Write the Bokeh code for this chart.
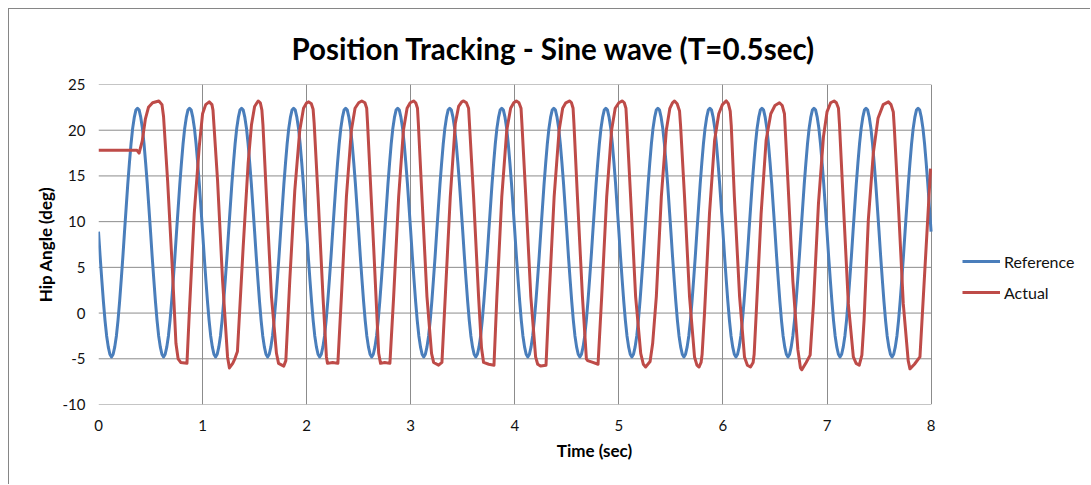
from bokeh.plotting import figure
from bokeh.models import Range1d, FixedTicker, Legend, LegendItem, PrintfTickFormatter
from bokeh.embed import file_html
from bokeh.resources import INLINE

# ---------------- data ----------------
# Reference signal, sampled every 1/64 s (0 .. 8 s); one row = one 0.5 s cycle
ref_angle = [
    8.9, 6.2, 3.7, 1.3, -0.8, -2.5, -3.7, -4.5, -4.8, -4.5, -3.7, -2.5, -0.8, 1.3, 3.7, 6.2, 8.9, 11.5, 14.1, 16.4, 18.5, 20.2, 21.4, 22.2, 22.4, 22.2, 21.4, 20.2, 18.5, 16.4, 14.1, 11.5,
    8.9, 6.2, 3.7, 1.3, -0.8, -2.5, -3.7, -4.5, -4.8, -4.5, -3.7, -2.5, -0.8, 1.3, 3.7, 6.2, 8.9, 11.5, 14.1, 16.4, 18.5, 20.2, 21.4, 22.2, 22.4, 22.2, 21.4, 20.2, 18.5, 16.4, 14.1, 11.5,
    8.9, 6.2, 3.7, 1.3, -0.8, -2.5, -3.7, -4.5, -4.8, -4.5, -3.7, -2.5, -0.8, 1.3, 3.7, 6.2, 8.9, 11.5, 14.1, 16.4, 18.5, 20.2, 21.4, 22.2, 22.4, 22.2, 21.4, 20.2, 18.5, 16.4, 14.1, 11.5,
    8.9, 6.2, 3.7, 1.3, -0.8, -2.5, -3.7, -4.5, -4.8, -4.5, -3.7, -2.5, -0.8, 1.3, 3.7, 6.2, 8.9, 11.5, 14.1, 16.4, 18.5, 20.2, 21.4, 22.2, 22.4, 22.2, 21.4, 20.2, 18.5, 16.4, 14.1, 11.5,
    8.9, 6.2, 3.7, 1.3, -0.8, -2.5, -3.7, -4.5, -4.8, -4.5, -3.7, -2.5, -0.8, 1.3, 3.7, 6.2, 8.9, 11.5, 14.1, 16.4, 18.5, 20.2, 21.4, 22.2, 22.4, 22.2, 21.4, 20.2, 18.5, 16.4, 14.1, 11.5,
    8.9, 6.2, 3.7, 1.3, -0.8, -2.5, -3.7, -4.5, -4.8, -4.5, -3.7, -2.5, -0.8, 1.3, 3.7, 6.2, 8.9, 11.5, 14.1, 16.4, 18.5, 20.2, 21.4, 22.2, 22.4, 22.2, 21.4, 20.2, 18.5, 16.4, 14.1, 11.5,
    8.9, 6.2, 3.7, 1.3, -0.8, -2.5, -3.7, -4.5, -4.8, -4.5, -3.7, -2.5, -0.8, 1.3, 3.7, 6.2, 8.9, 11.5, 14.1, 16.4, 18.5, 20.2, 21.4, 22.2, 22.4, 22.2, 21.4, 20.2, 18.5, 16.4, 14.1, 11.5,
    8.9, 6.2, 3.7, 1.3, -0.8, -2.5, -3.7, -4.5, -4.8, -4.5, -3.7, -2.5, -0.8, 1.3, 3.7, 6.2, 8.9, 11.5, 14.1, 16.4, 18.5, 20.2, 21.4, 22.2, 22.4, 22.2, 21.4, 20.2, 18.5, 16.4, 14.1, 11.5,
    8.9, 6.2, 3.7, 1.3, -0.8, -2.5, -3.7, -4.5, -4.8, -4.5, -3.7, -2.5, -0.8, 1.3, 3.7, 6.2, 8.9, 11.5, 14.1, 16.4, 18.5, 20.2, 21.4, 22.2, 22.4, 22.2, 21.4, 20.2, 18.5, 16.4, 14.1, 11.5,
    8.9, 6.2, 3.7, 1.3, -0.8, -2.5, -3.7, -4.5, -4.8, -4.5, -3.7, -2.5, -0.8, 1.3, 3.7, 6.2, 8.9, 11.5, 14.1, 16.4, 18.5, 20.2, 21.4, 22.2, 22.4, 22.2, 21.4, 20.2, 18.5, 16.4, 14.1, 11.5,
    8.9, 6.2, 3.7, 1.3, -0.8, -2.5, -3.7, -4.5, -4.8, -4.5, -3.7, -2.5, -0.8, 1.3, 3.7, 6.2, 8.9, 11.5, 14.1, 16.4, 18.5, 20.2, 21.4, 22.2, 22.4, 22.2, 21.4, 20.2, 18.5, 16.4, 14.1, 11.5,
    8.9, 6.2, 3.7, 1.3, -0.8, -2.5, -3.7, -4.5, -4.8, -4.5, -3.7, -2.5, -0.8, 1.3, 3.7, 6.2, 8.9, 11.5, 14.1, 16.4, 18.5, 20.2, 21.4, 22.2, 22.4, 22.2, 21.4, 20.2, 18.5, 16.4, 14.1, 11.5,
    8.9, 6.2, 3.7, 1.3, -0.8, -2.5, -3.7, -4.5, -4.8, -4.5, -3.7, -2.5, -0.8, 1.3, 3.7, 6.2, 8.9, 11.5, 14.1, 16.4, 18.5, 20.2, 21.4, 22.2, 22.4, 22.2, 21.4, 20.2, 18.5, 16.4, 14.1, 11.5,
    8.9, 6.2, 3.7, 1.3, -0.8, -2.5, -3.7, -4.5, -4.8, -4.5, -3.7, -2.5, -0.8, 1.3, 3.7, 6.2, 8.9, 11.5, 14.1, 16.4, 18.5, 20.2, 21.4, 22.2, 22.4, 22.2, 21.4, 20.2, 18.5, 16.4, 14.1, 11.5,
    8.9, 6.2, 3.7, 1.3, -0.8, -2.5, -3.7, -4.5, -4.8, -4.5, -3.7, -2.5, -0.8, 1.3, 3.7, 6.2, 8.9, 11.5, 14.1, 16.4, 18.5, 20.2, 21.4, 22.2, 22.4, 22.2, 21.4, 20.2, 18.5, 16.4, 14.1, 11.5,
    8.9, 6.2, 3.7, 1.3, -0.8, -2.5, -3.7, -4.5, -4.8, -4.5, -3.7, -2.5, -0.8, 1.3, 3.7, 6.2, 8.9, 11.5, 14.1, 16.4, 18.5, 20.2, 21.4, 22.2, 22.4, 22.2, 21.4, 20.2, 18.5, 16.4, 14.1, 11.5,
    8.9,
]
ref_time = [i / 64 for i in range(len(ref_angle))]   # sample clock 64 Hz

# Actual signal, read at key points
act_time = [
    0.00, 0.10, 0.20, 0.30, 0.37, 0.39, 0.42, 0.45, 0.48, 0.52, 0.58, 0.61, 0.625, 0.664, 0.712, 0.744,
    0.765, 0.79, 0.85, 0.872, 0.92, 0.968, 1.00, 1.03, 1.064, 1.09, 1.10, 1.144, 1.192, 1.24, 1.258,
    1.29, 1.31, 1.335, 1.39, 1.438, 1.47, 1.50, 1.534, 1.555, 1.57, 1.58, 1.614, 1.662, 1.71, 1.73,
    1.78, 1.80, 1.838, 1.886, 1.934, 1.97, 2.00, 2.02, 2.045, 2.062, 2.072, 2.11, 2.157, 2.19, 2.20,
    2.25, 2.30, 2.334, 2.382, 2.43, 2.465, 2.50, 2.53, 2.56, 2.577, 2.585, 2.62, 2.644, 2.692, 2.71,
    2.75, 2.80, 2.836, 2.884, 2.93, 2.965, 2.995, 3.028, 3.048, 3.065, 3.073, 3.108, 3.156, 3.20, 3.22,
    3.268, 3.30, 3.332, 3.38, 3.428, 3.46, 3.49, 3.508, 3.535, 3.556, 3.564, 3.604, 3.652, 3.68, 3.70,
    3.75, 3.80, 3.828, 3.875, 3.923, 3.96, 3.99, 4.015, 4.04, 4.06, 4.068, 4.106, 4.154, 4.20, 4.22,
    4.25, 4.30, 4.33, 4.378, 4.426, 4.46, 4.49, 4.528, 4.545, 4.56, 4.568, 4.602, 4.65, 4.688, 4.70,
    4.75, 4.80, 4.835, 4.883, 4.93, 4.965, 5.00, 5.034, 5.052, 5.068, 5.076, 5.113, 5.161, 5.21, 5.235,
    5.257, 5.30, 5.325, 5.36, 5.408, 5.456, 5.49, 5.515, 5.535, 5.56, 5.583, 5.593, 5.631, 5.679, 5.727,
    5.75, 5.77, 5.79, 5.80, 5.823, 5.871, 5.92, 5.96, 5.995, 6.032, 6.052, 6.07, 6.08, 6.11, 6.16,
    6.207, 6.235, 6.265, 6.29, 6.30, 6.32, 6.367, 6.415, 6.46, 6.50, 6.543, 6.57, 6.591, 6.624, 6.672,
    6.72, 6.745, 6.758, 6.80, 6.838, 6.87, 6.918, 6.966, 7.00, 7.035, 7.068, 7.09, 7.11, 7.12, 7.157,
    7.205, 7.253, 7.28, 7.31, 7.335, 7.356, 7.397, 7.445, 7.49, 7.54, 7.59, 7.615, 7.637, 7.647, 7.685,
    7.733, 7.78, 7.797, 7.84, 7.893, 7.94, 7.995,
]
act_angle = [
    17.8, 17.8, 17.8, 17.8, 17.8, 17.5, 18.8, 21.2, 22.5, 23.0, 23.2, 22.8, 21.5, 14.5, 4.3, -3.3,
    -5.0, -5.4, -5.5, -0.1, 10.9, 18.2, 21.8, 22.8, 23.1, 22.8, 22.2, 14.5, 3.6, -4.8, -6.0,
    -5.5, -5.0, -4.2, 7.2, 16.4, 20.6, 22.6, 23.2, 23.0, 22.2, 20.6, 12.7, 1.8, -4.4, -5.5,
    -5.8, -5.2, 3.6, 13.4, 20.0, 22.4, 23.0, 23.1, 22.9, 22.3, 20.8, 12.7, 1.8, -4.8, -5.5,
    -5.4, -5.5, 1.8, 12.7, 20.0, 22.4, 23.0, 23.2, 23.0, 22.4, 20.8, 12.7, 7.2, -4.4, -5.5,
    -5.4, -5.5, 1.8, 12.7, 20.0, 22.4, 23.0, 23.2, 23.0, 22.4, 20.8, 12.7, 1.8, -4.4, -5.4,
    -5.7, -5.4, 1.8, 12.7, 20.7, 22.6, 23.1, 23.2, 23.0, 22.4, 20.8, 12.7, 1.8, -3.8, -5.4,
    -5.6, -5.7, 1.8, 12.7, 20.0, 22.4, 23.0, 23.2, 23.0, 22.4, 20.8, 12.7, 1.8, -4.8, -5.6,
    -5.8, -5.7, 1.8, 12.7, 20.0, 22.4, 23.0, 23.2, 23.0, 22.4, 20.8, 12.7, 1.8, -5.0, -5.2,
    -5.4, -5.6, 1.8, 12.7, 20.0, 22.4, 23.0, 23.2, 23.0, 22.4, 20.8, 12.7, 1.8, -4.4, -5.6,
    -5.9, -5.3, -3.3, 1.8, 12.7, 20.0, 22.4, 23.0, 23.2, 22.9, 22.1, 20.5, 12.7, 1.8, -4.8,
    -5.7, -5.9, -5.4, -4.5, 0.0, 10.9, 18.9, 21.8, 22.8, 23.2, 22.9, 22.1, 20.5, 12.7, 1.8,
    -4.8, -5.7, -5.9, -5.4, -4.5, 0.0, 10.9, 18.9, 21.8, 22.7, 23.0, 22.7, 21.8, 14.5, 3.5,
    -4.0, -6.0, -6.2, -5.4, -4.6, 1.0, 12.0, 19.3, 22.0, 23.0, 23.2, 23.0, 22.4, 20.6, 12.0,
    1.0, -4.8, -5.5, -5.7, -4.6, -0.8, 10.2, 17.5, 21.3, 22.8, 23.1, 22.8, 22.0, 20.2, 12.0,
    1.0, -5.2, -6.1, -5.6, -4.8, 4.7, 15.8,
]

series_names = ["Reference", "Actual"]
x_ticks = [0, 1, 2, 3, 4, 5, 6, 7, 8]
y_ticks = [-10, -5, 0, 5, 10, 15, 20, 25]

# ---------------- styling ----------------
BLUE = "#4A7EBB"
RED = "#BE4B48"
GRID = "#8C8C8C"
FONT = "Lato"

# frame runs from x=0 (canvas 88.5) to the right edge so the legend can sit at the right;
# data axis 0..8 occupies 833 px
PX_PER_UNIT = 833 / 8
X_END = x_ticks[-1] + (1081 - 921.5) / PX_PER_UNIT

p = figure(width=1082, height=476, output_backend="svg", toolbar_location=None,
           x_range=Range1d(x_ticks[0], X_END), y_range=Range1d(y_ticks[0], y_ticks[-1]),
           min_border_left=89, min_border_right=1, min_border_top=75, min_border_bottom=81)
p.margin = (8, 0, 0, 8)
p.styles = {"border-left": "1px solid #868686", "border-top": "1px solid #868686"}

p.title.text = "Position Tracking - Sine wave (T=0.5sec)"
p.title.align = "left"
p.title.offset = 193
p.title.text_font = FONT
p.title.text_font_style = "bold"
p.title.text_font_size = "29.5px"
p.title.text_color = "#000000"
p.title.standoff = 38

p.outline_line_color = None

for ax in (p.xaxis[0], p.yaxis[0]):
    ax.axis_line_color = None
    ax.major_tick_line_color = None
    ax.minor_tick_line_color = None
    ax.major_tick_out = 0
    ax.major_tick_in = 0
    ax.formatter = PrintfTickFormatter(format="%d")
    ax.major_label_text_font = FONT
    ax.major_label_text_font_size = "15px"
    ax.major_label_text_color = "#111111"
    ax.axis_label_text_font = FONT
    ax.axis_label_text_font_style = "bold"
    ax.axis_label_text_font_size = "17px"
    ax.axis_label_text_color = "#000000"

p.xaxis.ticker = FixedTicker(ticks=x_ticks)
p.yaxis.ticker = FixedTicker(ticks=y_ticks)
p.xaxis.bounds = (x_ticks[0], x_ticks[-1])
p.xaxis.axis_label = "Time (sec)"
p.yaxis.axis_label = "Hip Angle (deg)"
p.xaxis.major_label_standoff = 15
p.yaxis.major_label_standoff = 13
p.xaxis.axis_label_standoff = 6
p.yaxis.axis_label_standoff = 4

# vertical grid lines (incl. the plot-area border at 0 and 8)
p.xgrid.ticker = p.xaxis.ticker
p.xgrid.grid_line_color = GRID
p.xgrid.grid_line_width = 1
# horizontal grid lines limited to the plot area 0..8
p.ygrid.visible = False
p.segment(x0=[x_ticks[0]] * len(y_ticks), x1=[x_ticks[-1]] * len(y_ticks),
          y0=y_ticks, y1=y_ticks, line_color=GRID, line_width=1, level="underlay")

r_ref = p.line(ref_time, ref_angle, line_color=BLUE, line_width=3, line_join="round")
r_act = p.line(act_time, act_angle, line_color=RED, line_width=3, line_join="round")

legend = Legend(items=[LegendItem(label=series_names[0], renderers=[r_ref]),
                       LegendItem(label=series_names[1], renderers=[r_act])],
                location=(864, 102), orientation="vertical")
legend.background_fill_alpha = 0
legend.border_line_color = None
legend.padding = 0
legend.margin = 0
legend.spacing = 11
legend.glyph_width = 38
legend.glyph_height = 20
legend.label_height = 20
legend.label_standoff = 4
legend.label_text_font = FONT
legend.label_text_font_size = "16px"
legend.label_text_color = "#111111"
p.add_layout(legend, "center")

open("out.html", "w").write(file_html(p, INLINE))
